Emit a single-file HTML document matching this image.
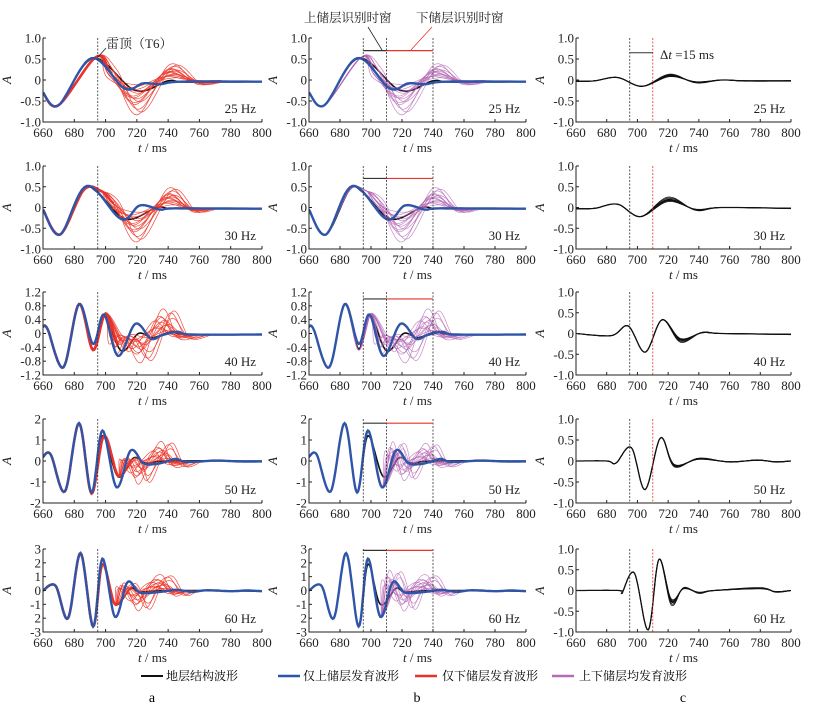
<!DOCTYPE html>
<html><head><meta charset="utf-8">
<style>
html,body{margin:0;padding:0;background:#fff;}
svg{display:block;font-family:"Liberation Serif","Noto Serif CJK SC","Noto Sans CJK SC",serif;}
</style></head>
<body>
<svg id="chart" width="830" height="706" viewBox="0 0 830 706" xmlns="http://www.w3.org/2000/svg">
<rect x="0" y="0" width="830" height="706" fill="#fff"/>
<g id="plots"></g>
<g font-size="12" font-family="'Liberation Serif','Noto Serif CJK SC',serif">
  <g><line x1="141" y1="676" x2="163" y2="676" stroke="#111" stroke-width="2"/><text x="166" y="680">地层结构波形</text></g>
  <g><line x1="278" y1="676" x2="300" y2="676" stroke="#2f55a8" stroke-width="2.5"/><text x="303" y="680">仅上储层发育波形</text></g>
  <g><line x1="415" y1="676" x2="437" y2="676" stroke="#e8322a" stroke-width="2.5"/><text x="442" y="680">仅下储层发育波形</text></g>
  <g><line x1="552" y1="676" x2="574" y2="676" stroke="#b86ab8" stroke-width="2.5"/><text x="579" y="680">上下储层均发育波形</text></g>
</g>
<text x="152" y="702" font-size="14" text-anchor="middle">a</text>
<text x="417" y="702" font-size="14" text-anchor="middle">b</text>
<text x="683" y="702" font-size="14" text-anchor="middle">c</text>
</svg>
<script>
// ---- data ----
const freqs = ["25 Hz","30 Hz","40 Hz","50 Hz","60 Hz"];
const xTicks = [660,680,700,720,740,760,780,800];
const yMaxAB = [1,1,1.2,2,3];
const yTicksAB = [[1,0.5,0,-0.5,-1],[1,0.5,0,-0.5,-1],[1.2,0.8,0.4,0,-0.4,-0.8,-1.2],[2,1,0,-1,-2],[3,2,1,0,-1,-2,-3]];
const yTickLabelsAB = [["1.0","0.5","0","-0.5","-1.0"],["1.0","0.5","0","-0.5","-1.0"],["1.2","0.8","0.4","0","-0.4","-0.8","-1.2"],["2","1","0","-1","-2"],["3","2","1","0","-1","2","-3"]];
const yTicksC = [1,0.5,0,-0.5,-1];
const yTickLabelsC = ["1.0","0.5","0","-0.5","-1.0"];
const windowTimes = [695,710,740];
const barLevelB = [0.7,0.7,1.0,1.8,2.9];

const blue25 = [[660,-0.3],[670,-0.6],[691,0.52],[712,-0.2],[724,-0.08],[735,-0.1],[748,-0.04],[800,-0.04]];
const black25 = [[660,-0.3],[670,-0.6],[692,0.52],[719,-0.25],[740,-0.02],[752,-0.05],[800,-0.04]];
const red25 = [[660,-0.3],[670,-0.6],[694,0.55],[704,0.15],[720,-0.45],[741,0.2],[758,-0.05],[772,-0.03]];
const blue30 = [[660,-0.05],[671,-0.65],[688,0.52],[710,-0.28],[722,0.05],[735,-0.05],[745,-0.02],[800,-0.03]];
const black30 = [[660,-0.05],[671,-0.65],[686,0.42],[695,0.36],[713,-0.28],[733,0.0],[745,-0.03],[800,-0.03]];
const red30 = [[660,-0.05],[671,-0.65],[686,0.42],[697,0.4],[705,0.1],[720,-0.45],[740,0.25],[755,-0.05],[767,-0.03]];
const blue40 = [[660,0.2],[663,0.12],[673,-0.98],[683,0.85],[692,-0.3],[699,0.55],[708,-0.65],[719,0.28],[729,-0.15],[736,-0.05],[746,0.05],[755,-0.03],[800,-0.03]];
const black40 = [[660,0.2],[663,0.12],[673,-0.98],[683,0.85],[692,-0.45],[699,0.55],[710,-0.5],[721,0.0],[730,-0.12],[742,0.05],[752,-0.03],[800,-0.03]];
const red40 = [[660,0.2],[663,0.12],[673,-0.98],[683,0.85],[692,-0.48],[700,0.58],[708,-0.3],[714,-0.1],[724,-0.45],[737,0.38],[748,-0.08],[762,-0.02]];
const blue50 = [[660,0.2],[665,0.3],[674,-1.45],[683,1.8],[691,-1.5],[698,1.45],[707,-1.25],[716,0.5],[724,-0.1],[731,-0.15],[738,-0.05],[745,0.1],[752,-0.05],[770,0.02],[785,-0.02],[800,-0.02]];
const black50 = [[660,0.2],[665,0.3],[674,-1.45],[683,1.8],[691,-1.5],[698,1.2],[708,-0.75],[718,0.15],[726,-0.1],[740,0],[800,0]];
const red50 = [[660,0.2],[665,0.3],[674,-1.45],[683,1.8],[691,-1.55],[699,1.2],[708,-0.7],[715,0.1],[722,-0.6],[730,0.1],[737,0.5],[745,-0.15],[756,0]];
const blue60 = [[660,0],[668,0.35],[676,-2.0],[684,2.7],[692,-2.6],[698,2.3],[706,-1.9],[714,0.6],[722,-0.15],[735,-0.1],[745,0.05],[755,-0.1],[765,0.02],[780,-0.05],[790,0],[800,-0.05]];
const black60 = [[660,0],[668,0.35],[676,-2.0],[684,2.7],[692,-2.6],[698,1.9],[706,-1.0],[716,0.15],[722,-0.1],[740,0],[800,-0.05]];
const red60 = [[660,0],[668,0.35],[676,-2.0],[684,2.7],[692,-2.6],[698,1.9],[706,-1.0],[713,0.3],[722,-0.8],[730,0.3],[737,0.6],[745,-0.2],[753,0]];
const purple50 = [[660,0.2],[665,0.3],[674,-1.45],[683,1.8],[691,-1.5],[698,1.45],[707,-1.25],[715,0.5],[722,-0.5],[730,0.1],[737,0.45],[745,-0.15],[756,0]];
const purple60 = [[660,0],[668,0.35],[676,-2.0],[684,2.7],[692,-2.6],[698,2.3],[706,-1.9],[713,0.8],[722,-0.8],[730,0.3],[737,0.6],[745,-0.2],[753,0]];
const diff25 = [[660,-0.03],[672,-0.02],[687,0.06],[703,-0.15],[721,0.1],[738,-0.05],[755,0],[770,-0.02],[800,-0.02]];
const diff30 = [[660,-0.03],[672,-0.02],[687,0.08],[702,-0.22],[720,0.18],[738,-0.05],[755,0],[800,-0.02]];
const diff40 = [[660,0],[683,-0.05],[694,0.18],[705,-0.45],[716,0.33],[728,-0.15],[742,0.02],[755,0],[800,-0.02]];
const diff50 = [[660,0],[680,0],[686,-0.05],[696,0.32],[705,-0.68],[715,0.55],[724,-0.1],[740,0.05],[760,-0.02],[778,0.02],[790,-0.02],[800,0]];
const diff60 = [[660,0],[688,0],[690,-0.05],[698,0.42],[707,-0.95],[714,0.75],[722,-0.25],[730,0.05],[740,-0.05],[750,0],[780,0.05],[790,-0.03],[800,0]];

const blueSets = [blue25,blue30,blue40,blue50,blue60];
const blackSets = [black25,black30,black40,black50,black60];
const redSets = [red25,red30,red40,red50,red60];
const purpleSets = [red25,red30,red40,purple50,purple60];
const diffSets = [diff25,diff30,diff40,diff50,diff60];
const redSplit = [703,703,706,708,706];
const purpleSplit = [700,700,706,709,708];
const diffSplit = [712,712,718,718,716];
const bundleScale = [0.25,0.5,0.7,0.85,1.0,1.15,1.3,1.55,1.85,0.4,1.7,0.95,0.6,1.2];
const bundleShiftLow = [2,-1,1,-2,0,2,-1,1,0,-3,3,-2,1,-1];
const bundleShiftHigh = [3,-4,2,-2,0,5,-3,4,-1,-5,6,-6,1,-2];
const diffScale = [0.8,0.9,1.0,1.1,1.25,1.4];

// ---- geometry ----
const colX0 = [43,309,576], colX1 = [262,526,791];
const rowY0 = [38,166,292,419,549], rowY1 = [122,249,375,503,632];
const NS = "http://www.w3.org/2000/svg";
const root = document.getElementById("plots");
function mk(tag, attrs, parent){const e=document.createElementNS(NS,tag);for(const k in attrs)e.setAttribute(k,attrs[k]);(parent||root).appendChild(e);return e;}

function member(knots, split, sc, sh){
  return knots.map(p => p[0] > split ? [p[0]+sh, p[1]*sc] : [p[0], p[1]]);
}
function dense(knots){
  const out=[];const n=knots.length;
  for(let i=0;i<n-1;i++){
    const p0=knots[Math.max(0,i-1)],p1=knots[i],p2=knots[i+1],p3=knots[Math.min(n-1,i+2)];
    for(let s=0;s<12;s++){const u=s/12,u2=u*u,u3=u2*u;
      const f=(a,b,c,d)=>0.5*((2*b)+(-a+c)*u+(2*a-5*b+4*c-d)*u2+(-a+3*b-3*c+d)*u3);
      out.push([f(p0[0],p1[0],p2[0],p3[0]),f(p0[1],p1[1],p2[1],p3[1])]);}
  }
  out.push(knots[n-1]);return out;
}
function pathD(pts, xs, ys, tmax){
  let d="";let started=false;
  for(const p of pts){ if(tmax!==undefined && p[0]>tmax) break;
    d+=(started?"L":"M")+xs(p[0]).toFixed(1)+","+ys(p[1]).toFixed(1);started=true;}
  return d;
}

for(let c=0;c<3;c++){
  for(let r=0;r<5;r++){
    const x0=colX0[c],x1=colX1[c],y0=rowY0[r],y1=rowY1[r];
    const ymax = c===2 ? 1 : yMaxAB[r];
    const xs = t => x0 + (t-660)/140*(x1-x0);
    const ys = a => y0 + (ymax-a)/(2*ymax)*(y1-y0);
    const g = mk("g",{});
    
    
    const clip = mk("clipPath",{id:"cl"+c+r},g);
    mk("rect",{x:x0,y:y0-4,width:x1-x0,height:y1-y0+8},clip);
    const curves = mk("g",{"clip-path":"url(#cl"+c+r+")"},g);
    
    

    const vts = c===0 ? [windowTimes[0]] : (c===1 ? windowTimes : [windowTimes[0],windowTimes[1]]);
    vts.forEach((t,i)=>{
      const ln = mk("line",{x1:xs(t),x2:xs(t),y1:y0,y2:y1,stroke:(c===2&&i===1)?"#e8322a":"#333","stroke-width":0.8,"stroke-dasharray":"2,1.5"},g);
      
      
    });

    if(c<2){
      const bk = mk("path",{d:pathD(dense(blackSets[r]),xs,ys),fill:"none",stroke:"#111","stroke-width":1.6},curves);
      
      
      const knots = c===0 ? redSets[r] : purpleSets[r];
      const split = c===0 ? redSplit[r] : purpleSplit[r];
      const col = c===0 ? "#ec3a2e" : "#b467b6";
      const shifts = r>=2 ? bundleShiftHigh : bundleShiftLow;
      for(let i=0;i<bundleScale.length;i++){
        const m = dense(member(knots, split, bundleScale[i], shifts[i]));
        const p = mk("path",{d:pathD(m,xs,ys),fill:"none",stroke:col,"stroke-width":0.7,"stroke-opacity":c===0?0.9:0.75},curves);
        
        
      }
      if(c===0){
        const th = mk("path",{d:pathD(dense(knots),xs,ys,split+2),fill:"none",stroke:"#e8322a","stroke-width":2.6},curves);
        
        
      }
      const bl = mk("path",{d:pathD(dense(blueSets[r]),xs,ys),fill:"none",stroke:"#2f55a8","stroke-width":2.4},curves);
      
      
    } else {
      for(let i=0;i<diffScale.length;i++){
        const m = dense(member(diffSets[r], diffSplit[r], diffScale[i], 0));
        const p = mk("path",{d:pathD(m,xs,ys),fill:"none",stroke:"#111","stroke-width":0.8},curves);
        
        
      }
      const p = mk("path",{d:pathD(dense(diffSets[r]),xs,ys),fill:"none",stroke:"#111","stroke-width":1.3},curves);
      
      
    }

    if(c===1){
      const yb = ys(barLevelB[r]);
      const b1 = mk("line",{x1:xs(695),x2:xs(710),y1:yb,y2:yb,stroke:"#333","stroke-width":1.2},g);
      
      
      const b2 = mk("line",{x1:xs(710),x2:xs(740),y1:yb,y2:yb,stroke:"#e8322a","stroke-width":1.2},g);
      
      
    }

    const ax = mk("path",{d:`M${x0},${y0}L${x0},${y1}L${x1},${y1}`,fill:"none",stroke:"#222","stroke-width":1},g);
    
    
    xTicks.forEach(t=>{
      mk("line",{x1:xs(t),x2:xs(t),y1:y1,y2:y1-3,stroke:"#222","stroke-width":1},g);
      const tl = mk("text",{x:xs(t),y:y1+15,"font-size":13,"text-anchor":"middle",fill:"#222"},g);
      tl.textContent = t;
      
      
    });
    const yt = c===2 ? yTicksC : yTicksAB[r];
    const yl = c===2 ? yTickLabelsC : yTickLabelsAB[r];
    yt.forEach((v,i)=>{
      mk("line",{x1:x0,x2:x0+3,y1:ys(v),y2:ys(v),stroke:"#222","stroke-width":1},g);
      const tl = mk("text",{x:x0-2,y:ys(v)+4.5,"font-size":13,"text-anchor":"end",fill:"#222"},g);
      tl.textContent = yl[i];
      
      
    });
    const xt = mk("text",{x:(x0+x1)/2,y:y1+30,"font-size":13,"text-anchor":"middle",fill:"#222"},g);
    xt.innerHTML = '<tspan font-style="italic">t</tspan> / ms';
    
    
    const yx = x0-32, yy=(y0+y1)/2;
    const ytt = mk("text",{x:yx,y:yy,"font-size":13,"font-style":"italic","text-anchor":"middle",transform:`rotate(-90 ${yx} ${yy})`,fill:"#222"},g);
    ytt.textContent = "A";
    
    
    const fl = mk("text",{x:x1-6,y:y1-9,"font-size":13,"text-anchor":"end",fill:"#222"},g);
    fl.textContent = freqs[r];
    
    

    if(r===0 && c===0){
      const a = mk("text",{x:106,y:48,"font-size":13,fill:"#222"},g);
      a.textContent = "雷顶（T6）";
      
      
      mk("line",{x1:106,y1:48,x2:98,y2:57,stroke:"#222","stroke-width":0.8},g);
    }
    if(r===0 && c===1){
      const a = mk("text",{x:304,y:22,"font-size":12.5,fill:"#222"},g);
      a.textContent = "上储层识别时窗";
      
      
      mk("line",{x1:368,y1:27,x2:382,y2:50,stroke:"#222","stroke-width":0.8},g);
      const b = mk("text",{x:416,y:22,"font-size":12.5,fill:"#222"},g);
      b.textContent = "下储层识别时窗";
      
      
      mk("line",{x1:432,y1:27,x2:410,y2:51,stroke:"#e8322a","stroke-width":0.8},g);
    }
    if(r===0 && c===2){
      const yb = ys(0.65);
      mk("line",{x1:xs(695),x2:xs(710),y1:yb,y2:yb,stroke:"#333","stroke-width":1},g);
      const a = mk("text",{x:660,y:59,"font-size":13,fill:"#222"},g);
      a.innerHTML = 'Δ<tspan font-style="italic">t</tspan> =15 ms';
      
      
    }
  }
}
</script>
</body></html>
